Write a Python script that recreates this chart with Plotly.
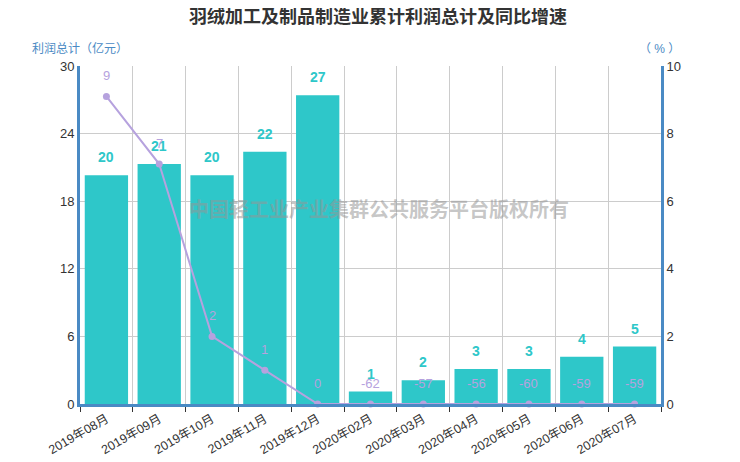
import plotly.graph_objects as go

# datos
meses = ["2019年08月", "2019年09月", "2019年10月", "2019年11月", "2019年12月",
         "2020年02月", "2020年03月", "2020年04月", "2020年05月", "2020年06月", "2020年07月"]
beneficio = [20.3, 21.3, 20.3, 22.4, 27.4, 1.1, 2.1, 3.1, 3.1, 4.2, 5.1]
crecimiento = [9.1, 7.1, 2.0, 1.0, 0.0, -62, -57, -56, -60, -59, -59]

TEAL = "#2ec7c9"
LILA = "#b6a2de"
AZUL = "#4a8ac4"
FUENTE = "Liberation Sans, Noto Sans CJK SC, sans-serif"

# eje derecho empieza en 0: los negativos se pintan en el borde, con su valor real en la etiqueta
crec_dibujo = [max(v, 0) for v in crecimiento]

fig = go.Figure()

fig.add_trace(go.Bar(
    x=meses, y=beneficio, name="利润总计",
    marker=dict(color=TEAL, line=dict(width=0)),
    hoverinfo="skip",
))

fig.add_trace(go.Scatter(
    x=meses, y=crec_dibujo, name="同比增速", yaxis="y2",
    mode="lines+markers",
    line=dict(color=LILA, width=2),
    marker=dict(color=LILA, size=7),
    cliponaxis=False,
    hoverinfo="skip",
))

# etiquetas de las barras
for m, v in zip(meses, beneficio):
    fig.add_annotation(
        x=m, y=v, text=f"<b>{v:.0f}</b>", showarrow=False,
        yanchor="bottom", yshift=8,
        font=dict(color=TEAL, size=14, family=FUENTE),
    )

# etiquetas de la linea
for m, v, vd in zip(meses, crecimiento, crec_dibujo):
    fig.add_annotation(
        x=m, y=vd, yref="y2", text=f"{v:.0f}", showarrow=False,
        yanchor="middle", yshift=21,
        font=dict(color=LILA, size=13, family=FUENTE),
    )

# marca de agua
fig.add_annotation(
    xref="paper", yref="paper", x=0.515, y=0.578,
    text="<b>中国轻工业产业集群公共服务平台版权所有</b>", showarrow=False,
    font=dict(color="rgba(150,150,150,0.55)", size=20, family="Noto Sans CJK SC"),
)

fig.add_annotation(
    xref="paper", yref="paper", x=0.0, y=1.025, xanchor="center", yanchor="bottom",
    text="利润总计（亿元）", showarrow=False,
    font=dict(color=AZUL, size=12, family=FUENTE),
)
fig.add_annotation(
    xref="paper", yref="paper", x=0.997, y=1.025, xanchor="center", yanchor="bottom",
    text="（ % ）", showarrow=False,
    font=dict(color=AZUL, size=12, family=FUENTE),
)

# la pagina deja 8px de margen en el body: se compensa en los margenes
fig.update_layout(
    width=740, height=462,
    title=dict(text="<b>羽绒加工及制品制造业累计利润总计及同比增速</b>", x=0.5, y=0.995,
               xanchor="center", yanchor="top",
               font=dict(size=18, color="#333333", family=FUENTE)),
    paper_bgcolor="white", plot_bgcolor="white",
    font=dict(family=FUENTE, color="#333333", size=12),
    margin=dict(l=72, r=87, t=58, b=66, autoexpand=False),
    showlegend=False,
    bargap=0.18,
    xaxis=dict(
        type="category", tickson="boundaries", automargin=False,
        range=[-0.5, len(meses) - 0.5],
        showgrid=True, gridcolor="#cccccc", gridwidth=1,
        showline=True, linecolor=AZUL, linewidth=3,
        ticks="outside", ticklen=5, tickcolor="#333333",
        tickangle=-30, tickfont=dict(size=12.5, color="#333333"),
    ),
    yaxis=dict(
        range=[0, 30], dtick=6, showgrid=True, gridcolor="#cccccc",
        showline=True, linecolor=AZUL, linewidth=3, automargin=False,
        zeroline=False, ticks="", tickfont=dict(size=13, color="#333333"),
    ),
    yaxis2=dict(
        range=[0, 10], dtick=2, overlaying="y", side="right",
        showgrid=False, showline=True, linecolor=AZUL, linewidth=3, automargin=False,
        zeroline=False, ticks="", tickfont=dict(size=13, color="#333333"),
    ),
)

fig.write_html("out.html")
